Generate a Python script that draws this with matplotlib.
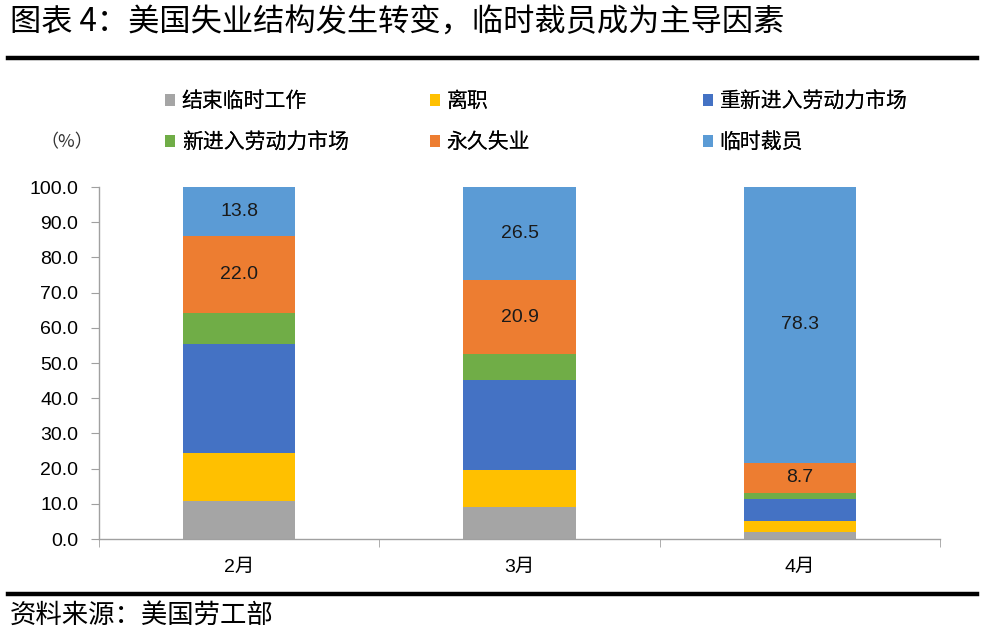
import numpy as np
import matplotlib
matplotlib.use('Agg')
import matplotlib.pyplot as plt
from matplotlib.patches import Patch
from matplotlib.lines import Line2D

plt.rcParams['font.family'] = ['Liberation Sans', 'Noto Sans CJK SC', 'DejaVu Sans']

# data
months = ['2月', '3月', '4月']
series_names = ['结束临时工作', '离职', '重新进入劳动力市场', '新进入劳动力市场', '永久失业', '临时裁员']
end_temp = [10.9, 9.1, 2.1]
quit_job = [13.5, 10.6, 2.9]
reentrant = [31.0, 25.5, 6.3]
new_entrant = [8.8, 7.4, 1.7]
permanent = [22.0, 20.9, 8.7]
temp_layoff = [13.8, 26.5, 78.3]
colors = ['#A5A5A5', '#FFC000', '#4472C4', '#70AD47', '#ED7D31', '#5B9BD5']

W, H = 985, 638
fig = plt.figure(figsize=(W / 100, H / 100), dpi=100)

def fx(px):
    return px / W

def fy(py):
    return 1 - py / H

ax = fig.add_axes([fx(99), fy(539), fx(940) - fx(99), fy(187) - fy(539)])

x = np.arange(len(months))
series = [end_temp, quit_job, reentrant, new_entrant, permanent, temp_layoff]
bottom = np.zeros(len(months))
for vals, c in zip(series, colors):
    ax.bar(x, vals, width=0.4, bottom=bottom, color=c, edgecolor='none')
    bottom += np.array(vals)

# value labels on the two top segments
base_perm = np.array(end_temp) + np.array(quit_job) + np.array(reentrant) + np.array(new_entrant)
for i in range(len(months)):
    ax.text(x[i], base_perm[i] + permanent[i] / 2, f'{permanent[i]:.1f}',
            ha='center', va='center', fontsize=14, color='#1a1a1a')
    if temp_layoff[i] > 0:
        ax.text(x[i], base_perm[i] + permanent[i] + temp_layoff[i] / 2, f'{temp_layoff[i]:.1f}',
                ha='center', va='center', fontsize=14, color='#1a1a1a')

ax.set_xlim(-0.5, 2.5)
ax.set_ylim(0, 100)
ax.set_yticks(np.arange(0, 101, 10))
ax.set_yticklabels([f'{v:.1f}' for v in np.arange(0, 101, 10)], fontsize=14)
ax.set_xticks(x)
ax.set_xticklabels(months, fontsize=14)
ax.set_xticks([-0.5, 0.5, 1.5, 2.5], minor=True)
ax.tick_params(axis='x', which='major', length=0, pad=14)
ax.tick_params(axis='x', which='minor', length=6, color='#A0A0A0', direction='out')
ax.tick_params(axis='y', length=6, color='#A0A0A0', pad=9)
for s in ['top', 'right']:
    ax.spines[s].set_visible(False)
for s in ['left', 'bottom']:
    ax.spines[s].set_color('#A0A0A0')
    ax.spines[s].set_linewidth(1.0)

# legend, one entry per box so the columns line up like the original
leg_pos = [(165, 101), (430, 101), (703, 101), (165, 142), (430, 142), (703, 142)]
for (px, py), c, name in zip(leg_pos, colors, series_names):
    lg = fig.legend(handles=[Patch(facecolor=c, edgecolor='none', label=name)],
                    loc='center left', bbox_to_anchor=(fx(px), fy(py)),
                    frameon=False, handlelength=0.5, handleheight=0.5,
                    handletextpad=0.3, borderpad=0, borderaxespad=0,
                    prop={'family': ['Noto Sans CJK SC'], 'size': 15})
    fig.add_artist(lg)

fig.text(fx(40), fy(142), '（%）', fontsize=13, va='center', ha='left',
         family=['Noto Sans CJK SC'], color='#333333')

# title, rules and source
fig.text(fx(10), fy(23), '图表 4：美国失业结构发生转变，临时裁员成为主导因素', fontsize=22.5,
         va='center', ha='left', family=['Noto Sans CJK SC'])
fig.add_artist(Line2D([fx(8), fx(977)], [fy(58), fy(58)], color='black', linewidth=3.2))
fig.add_artist(Line2D([fx(8), fx(977)], [fy(594), fy(594)], color='black', linewidth=3.2))
fig.text(fx(10), fy(615), '资料来源：美国劳工部', fontsize=19, va='center', ha='left',
         family=['Noto Sans CJK SC'], style='italic')

fig.savefig('out.png', dpi=100)
